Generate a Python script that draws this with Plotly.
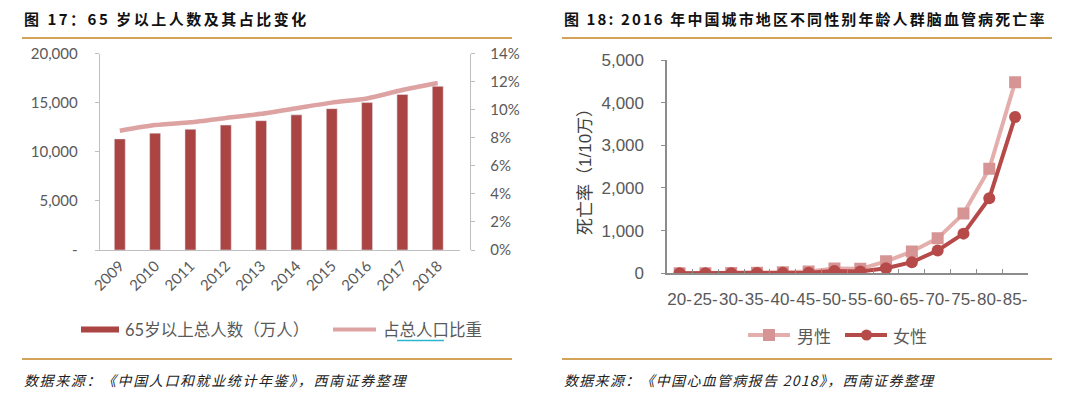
import plotly.graph_objects as go

# ---------------- data ----------------
years = ["2009", "2010", "2011", "2012", "2013", "2014", "2015", "2016", "2017", "2018"]
pop65 = [11307, 11894, 12288, 12714, 13161, 13755, 14386, 15003, 15831, 16658]
share65 = [0.085, 0.089, 0.091, 0.094, 0.097, 0.101, 0.105, 0.108, 0.114, 0.119]

age_groups = ["20-", "25-", "30-", "35-", "40-", "45-", "50-", "55-", "60-", "65-", "70-", "75-", "80-", "85-"]
male_rate = [2, 3, 5, 10, 25, 40, 110, 105, 280, 510, 820, 1400, 2450, 4480]
female_rate = [1, 2, 3, 5, 10, 15, 55, 45, 120, 260, 535, 930, 1760, 3665]

left_y_ticks = [0, 5000, 10000, 15000, 20000]
left_y_text = ["-", "5,000", "10,000", "15,000", "20,000"]
right_y_ticks = [0, 0.02, 0.04, 0.06, 0.08, 0.10, 0.12, 0.14]

W, H = 1080, 397
def px(x):
    return x / W
def py(y):
    return 1 - y / H

BAR = "#AA4543"
LINE_PINK = "#DDA3A2"
MALE_LINE = "#E4AEAD"
MALE_MARK = "#D69594"
FEMALE = "#B64A49"
GRAY = "#595959"
AXIS = "#BFBFBF"
AXIS2 = "#8C8C8C"
SEP = "#D3A35A"

LAT = "Lato, 'Noto Sans CJK SC', sans-serif"
ARI = "'Liberation Sans', Arial, 'Noto Sans CJK SC', sans-serif"
CJK = "'Noto Sans CJK SC', sans-serif"

fig = go.Figure()

# left chart
fig.add_trace(go.Bar(x=years, y=pop65, marker_color=BAR, width=0.31,
                     xaxis="x", yaxis="y", showlegend=False, hoverinfo="skip"))
fig.add_trace(go.Scatter(x=years, y=share65, mode="lines",
                         line=dict(color=LINE_PINK, width=4.5, shape="spline", smoothing=0.6),
                         xaxis="x", yaxis="y2", showlegend=False, hoverinfo="skip"))

# right chart
fig.add_trace(go.Scatter(x=age_groups, y=male_rate, mode="lines+markers",
                         line=dict(color=MALE_LINE, width=4),
                         marker=dict(symbol="square", size=12, color=MALE_MARK),
                         xaxis="x3", yaxis="y3", showlegend=False, hoverinfo="skip"))
fig.add_trace(go.Scatter(x=age_groups, y=female_rate, mode="lines+markers",
                         line=dict(color=FEMALE, width=4),
                         marker=dict(symbol="circle", size=12, color=FEMALE),
                         xaxis="x3", yaxis="y3", showlegend=False, hoverinfo="skip"))

layout = dict(
    width=W, height=H,
    margin=dict(l=0, r=0, t=0, b=0, pad=0, autoexpand=False),
    paper_bgcolor="white", plot_bgcolor="white",
    showlegend=False,
    bargap=0,
    xaxis=dict(domain=[px(100), px(460)], anchor="y", type="category",
               range=[-0.56, 9.63], automargin=False,
               showline=True, linecolor=AXIS, linewidth=1.3,
               ticks="", tickangle=-45,
               tickfont=dict(family=LAT, size=15, color=GRAY),
               showgrid=False, zeroline=False),
    yaxis=dict(domain=[py(250), py(53.5)], anchor="x", range=[0, 20000],
               tickvals=left_y_ticks, ticktext=left_y_text, automargin=False,
               showline=True, linecolor=AXIS, linewidth=1.3,
               ticks="outside", ticklen=4, tickcolor=AXIS, ticklabelstandoff=14,
               tickfont=dict(family=LAT, size=15, color=GRAY),
               showgrid=False, zeroline=False),
    yaxis2=dict(overlaying="y", anchor="free", position=px(470), side="right",
                range=[0, 0.14], tickvals=right_y_ticks, tickformat=".0%",
                automargin=False,
                showline=True, linecolor=AXIS, linewidth=1.3,
                ticks="outside", ticklen=4, tickcolor=AXIS, ticklabelstandoff=12,
                tickfont=dict(family=LAT, size=15, color=GRAY),
                showgrid=False, zeroline=False),
    xaxis3=dict(domain=[px(666.7), px(1028)], anchor="y3", type="category",
                range=[-0.5, 13.5], automargin=False, tickangle=0,
                showline=True, linecolor=AXIS2, linewidth=1.3,
                ticks="inside", tickson="boundaries", ticklen=4, tickcolor=AXIS2,
                ticklabelstandoff=10,
                tickfont=dict(family=ARI, size=17, color=GRAY),
                showgrid=False, zeroline=False),
    yaxis3=dict(domain=[py(273.3), py(60)], anchor="x3", range=[0, 5000],
                dtick=1000, tickformat=",d", automargin=False,
                showline=True, linecolor=AXIS2, linewidth=1.3,
                ticks="outside", ticklen=4, tickcolor=AXIS2, ticklabelstandoff=14,
                tickfont=dict(family=ARI, size=17, color=GRAY),
                showgrid=False, zeroline=False),
)
fig.update_layout(**layout)

shapes = []
annotations = []

# separator lines
for (x0, x1) in [(22, 512), (562, 1052)]:
    for y in (38, 359):
        shapes.append(dict(type="line", xref="paper", yref="paper",
                           x0=px(x0), x1=px(x1), y0=py(y), y1=py(y),
                           line=dict(color=SEP, width=2)))

# titles
annotations.append(dict(xref="paper", yref="paper", x=px(22), y=py(19),
                        xanchor="left", yanchor="middle", showarrow=False,
                        text='<span style="letter-spacing:2.5px"><b>图 17：65 岁以上人数及其占比变化</b></span>',
                        font=dict(family=CJK, size=15, color="#111111")))
annotations.append(dict(xref="paper", yref="paper", x=px(562), y=py(19),
                        xanchor="left", yanchor="middle", showarrow=False,
                        text='<span style="letter-spacing:2.1px"><b>图 18: 2016 年中国城市地区不同性别年龄人群脑血管病死亡率</b></span>',
                        font=dict(family=CJK, size=15, color="#111111")))

# sources
annotations.append(dict(xref="paper", yref="paper", x=px(22), y=py(380),
                        xanchor="left", yanchor="middle", showarrow=False,
                        text='<span style="letter-spacing:1.6px"><i>数据来源：《中国人口和就业统计年鉴》，西南证券整理</i></span>',
                        font=dict(family=CJK, size=14, color="#222222")))
annotations.append(dict(xref="paper", yref="paper", x=px(562), y=py(380),
                        xanchor="left", yanchor="middle", showarrow=False,
                        text='<span style="letter-spacing:1.3px"><i>数据来源：《中国心血管病报告 2018》，西南证券整理</i></span>',
                        font=dict(family=CJK, size=14, color="#222222")))

# left legend
shapes.append(dict(type="rect", xref="paper", yref="paper",
                   x0=px(81), x1=px(119), y0=py(332.5), y1=py(326.5),
                   fillcolor=BAR, line=dict(width=0)))
annotations.append(dict(xref="paper", yref="paper", x=px(123), y=py(330),
                        xanchor="left", yanchor="middle", showarrow=False,
                        text="65岁以上总人数（万人）",
                        font=dict(family=LAT, size=16.5, color=GRAY)))
shapes.append(dict(type="line", xref="paper", yref="paper",
                   x0=px(333), x1=px(376), y0=py(329.5), y1=py(329.5),
                   line=dict(color=LINE_PINK, width=4)))
annotations.append(dict(xref="paper", yref="paper", x=px(381), y=py(330),
                        xanchor="left", yanchor="middle", showarrow=False,
                        text="占总人口比重",
                        font=dict(family=LAT, size=16.5, color=GRAY)))
shapes.append(dict(type="line", xref="paper", yref="paper",
                   x0=px(397), x1=px(444), y0=py(340.5), y1=py(340.5),
                   line=dict(color="#2CB5CF", width=1.5)))

# right y axis title
annotations.append(dict(xref="paper", yref="paper", x=px(586), y=py(168),
                        xanchor="center", yanchor="middle", showarrow=False,
                        textangle=-90, text="死亡率（1/10万）",
                        font=dict(family=ARI, size=17, color="#404040")))

# right legend
shapes.append(dict(type="line", xref="paper", yref="paper",
                   x0=px(748), x1=px(790), y0=py(335), y1=py(335),
                   line=dict(color=MALE_LINE, width=4)))
shapes.append(dict(type="rect", xref="paper", yref="paper",
                   x0=px(763), x1=px(775), y0=py(341), y1=py(329),
                   fillcolor=MALE_MARK, line=dict(width=0)))
annotations.append(dict(xref="paper", yref="paper", x=px(795), y=py(335),
                        xanchor="left", yanchor="middle", showarrow=False,
                        text="男性", font=dict(family=CJK, size=17, color=GRAY)))
shapes.append(dict(type="line", xref="paper", yref="paper",
                   x0=px(845), x1=px(887), y0=py(335), y1=py(335),
                   line=dict(color=FEMALE, width=4)))
shapes.append(dict(type="circle", xref="paper", yref="paper",
                   x0=px(861), x1=px(872), y0=py(340.5), y1=py(329.5),
                   fillcolor=FEMALE, line=dict(width=0)))
annotations.append(dict(xref="paper", yref="paper", x=px(891), y=py(335),
                        xanchor="left", yanchor="middle", showarrow=False,
                        text="女性", font=dict(family=CJK, size=17, color=GRAY)))

fig.update_layout(shapes=shapes, annotations=annotations)

fig.write_html("out.html",
               config={"displayModeBar": False, "staticPlot": True},
               post_script="document.body.style.margin='0';document.body.style.overflow='hidden';")
